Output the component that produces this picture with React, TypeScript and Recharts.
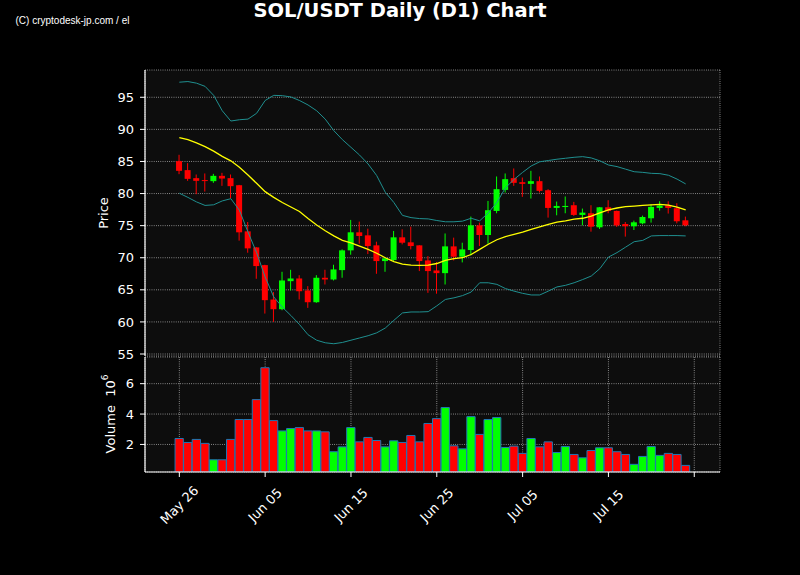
import React from 'react';
import { ComposedChart, Bar, Line, XAxis, YAxis, CartesianGrid, Cell } from 'recharts';

// ---- data (day index 0 = May 26) ----
const days = Array.from({ length: 60 }, (_, i) => i);
const opens = [85.05, 83.65, 82.4, 82.1, 81.93, 82.76, 82.4, 81.3, 74.11, 71.61,
  68.85, 63.49, 61.98, 66.35, 66.77, 64.9, 63.07, 66.88, 66.61, 68.07,
  71.15, 73.96, 73.49, 71.93, 69.48, 69.64, 73.18, 72.4, 71.93, 69.58,
  68.02, 67.6, 71.77, 70.16, 71.2, 75.05, 73.54, 77.29, 80.57, 82.4,
  81.77, 81.51, 81.93, 80.52, 77.76, 77.9, 78.18, 76.67, 76.93, 74.74,
  77.86, 77.29, 75.26, 74.9, 75.36, 76.15, 77.76, 78.18, 77.71, 75.83];
const highs = [86.04, 84.74, 82.97, 83.13, 83.07, 83.23, 82.97, 81.35, 75.57, 71.65,
  68.9, 64.64, 67.81, 68.12, 67.28, 65.57, 67.28, 68.13, 68.91, 71.3,
  75.89, 75.63, 74.53, 72.5, 69.95, 74.17, 74.43, 74.84, 71.95, 70.26,
  69.32, 73.78, 73.13, 72.34, 76.41, 75.47, 78.85, 82.66, 83.13, 83.91,
  82.5, 83.54, 82.66, 80.68, 78.75, 79.54, 78.7, 77.66, 78.18, 77.9,
  78.96, 77.35, 75.57, 75.78, 76.56, 78.33, 78.8, 78.8, 78.49, 76.41];
const lows = [83.02, 81.98, 79.9, 80.31, 81.67, 81.2, 79.22, 72.66, 70.78, 66.72,
  61.3, 60.0, 61.82, 64.9, 63.49, 62.19, 62.97, 65.83, 66.46, 66.88,
  70.47, 72.19, 70.57, 67.5, 67.81, 69.48, 72.08, 71.3, 67.92, 64.53,
  64.4, 65.83, 69.58, 69.27, 70.36, 71.82, 72.19, 76.93, 80.16, 81.2,
  79.48, 79.22, 80.16, 76.25, 76.61, 76.93, 76.51, 75.05, 74.06, 74.48,
  76.93, 74.8, 73.29, 74.32, 75.21, 75.47, 77.34, 76.88, 75.36, 74.9];
const closes = [83.54, 82.29, 81.98, 81.98, 82.76, 82.34, 81.15, 73.96, 71.46, 68.7,
  63.39, 61.98, 66.46, 66.77, 64.78, 63.07, 66.88, 66.61, 68.18, 71.15,
  73.96, 73.39, 71.82, 69.48, 69.9, 73.18, 72.34, 71.82, 69.48, 67.92,
  67.6, 71.77, 70.16, 71.3, 75.05, 73.54, 77.4, 80.68, 82.24, 81.67,
  81.51, 81.93, 80.42, 77.76, 78.07, 78.07, 76.67, 77.03, 74.84, 77.86,
  77.29, 75.03, 74.9, 75.52, 76.35, 77.92, 78.12, 77.76, 75.68, 75.05];
const volumes = [2.39, 2.13, 2.33, 2.07, 0.99, 0.99, 2.33, 3.64, 3.64, 4.95,
  7.05, 3.57, 2.89, 3.05, 3.11, 2.89, 2.89, 2.83, 1.52, 1.84,
  3.11, 2.17, 2.46, 2.26, 1.84, 2.24, 2.13, 2.59, 2.17, 3.38,
  3.7, 4.43, 1.91, 1.71, 3.83, 2.66, 3.64, 3.77, 1.8, 1.89,
  1.41, 2.39, 1.84, 2.17, 1.47, 1.86, 1.34, 1.12, 1.6, 1.78,
  1.78, 1.52, 1.34, 0.69, 1.21, 1.86, 1.28, 1.41, 1.34, 0.62];
const sma = [88.7, 88.4, 87.9, 87.3, 86.6, 85.8, 85.1, 84.1, 82.9, 81.6,
  80.3, 79.4, 78.6, 77.9, 77.2, 76.1, 75.1, 74.2, 73.4, 72.7,
  72.3, 71.8, 71.3, 70.7, 70.0, 69.4, 69.0, 68.85, 68.8, 68.85,
  69.1, 69.6, 69.85, 70.0, 70.5, 71.3, 72.1, 72.8, 73.3, 73.65,
  74.0, 74.4, 74.8, 75.2, 75.55, 75.75, 76.0, 76.15, 76.5, 77.0,
  77.45, 77.75, 77.95, 78.05, 78.15, 78.25, 78.3, 78.2, 77.9, 77.45];
const upperBand = [97.35, 97.45, 97.2, 96.7, 95.3, 92.9, 91.3, 91.5, 91.6, 92.5,
  94.5, 95.3, 95.25, 95.05, 94.5, 93.8, 92.9, 91.6, 89.8, 88.4,
  87.2, 86.0, 84.6, 82.8, 80.2, 78.6, 76.6, 76.25, 76.1, 76.05,
  75.8, 75.6, 75.6, 75.7, 76.15, 75.75, 77.0, 78.6, 80.9, 82.2,
  83.3, 84.3, 84.95, 85.15, 85.35, 85.5, 85.65, 85.75, 85.55, 85.1,
  84.45, 84.2, 83.8, 83.4, 83.3, 83.15, 83.1, 82.85, 82.25, 81.5];
const lowerBand = [80.05, 79.4, 78.7, 78.15, 78.25, 78.85, 79.2, 77.4, 74.0, 70.8,
  67.0, 63.9, 62.3, 61.0, 59.6, 58.0, 57.15, 56.75, 56.6, 56.8,
  57.15, 57.5, 57.85, 58.3, 59.05, 60.25, 61.4, 61.55, 61.55, 61.6,
  62.5, 63.5, 63.75, 64.1, 64.65, 66.1, 66.1, 65.85, 65.2, 64.8,
  64.45, 64.2, 64.2, 64.8, 65.45, 65.7, 66.1, 66.6, 67.15, 68.3,
  70.1, 70.8, 71.65, 72.5, 72.7, 73.4, 73.45, 73.45, 73.45, 73.4];
const tickDays = [0, 10, 20, 30, 40, 50, 60];
const tickLabels = ['May 26', 'Jun 05', 'Jun 15', 'Jun 25', 'Jul 05', 'Jul 15', ''];
const priceTicks = [55, 60, 65, 70, 75, 80, 85, 90, 95];
const volumeTicks = [2, 4, 6];

const rows = days.map((d, i) => ({
  day: d,
  open: opens[i],
  high: highs[i],
  low: lows[i],
  close: closes[i],
  volume: volumes[i],
  sma: sma[i],
  upper: upperBand[i],
  lower: lowerBand[i],
}));

const UP = '#00ff00';
const DOWN = '#ff0000';
const FONT = 'DejaVu Sans';
const GRID = '#c8c8c8';
const PLOT_BG = '#0d0d0d';

const Candle = (props: any) => {
  const { x, y, width, height, payload } = props;
  if (!payload) return null;
  const { open, close, high, low } = payload;
  const top = Math.min(y, y + height);
  const bot = Math.max(y, y + height);
  const span = high - low || 1;
  const pix = (v: number) => top + ((high - v) / span) * (bot - top);
  const cx = x + width / 2;
  const color = close >= open ? UP : DOWN;
  const bt = pix(Math.max(open, close));
  const bb = pix(Math.min(open, close));
  return (
    <g>
      <line x1={cx} x2={cx} y1={top} y2={bot} stroke={color} strokeWidth={1} />
      <rect x={x} y={bt} width={width} height={Math.max(bb - bt, 1)} fill={color} />
    </g>
  );
};

const XTick = (props: any) => {
  const { x, y, payload } = props;
  const idx = tickDays.indexOf(payload.value);
  const label = idx >= 0 ? tickLabels[idx] : '';
  if (!label) return null;
  const cy = y + 26;
  return (
    <text x={x} y={cy} textAnchor="middle" dominantBaseline="central" fill="#ffffff"
      fontSize={13} fontFamily={FONT} transform={`rotate(-45, ${x}, ${cy})`}>
      {label}
    </text>
  );
};

const tickStyle = { fill: '#ffffff', fontSize: 13, fontFamily: FONT };
const X_DOMAIN: [number, number] = [-4, 63];

export default function App() {
  return (
    <div style={{ position: 'fixed', left: 0, top: 0, width: 800, height: 575, background: '#000', overflow: 'hidden' }}>
      <div style={{ position: 'absolute', left: 0, top: 0 }}>
        <ComposedChart width={800} height={575} data={rows}
          margin={{ top: 70, right: 80, bottom: 219, left: 85 }}>
          <CartesianGrid stroke={GRID} strokeWidth={0.8} strokeDasharray="0.8 1.4" fill={PLOT_BG} />
          <XAxis dataKey="day" type="number" domain={X_DOMAIN} ticks={tickDays} allowDataOverflow
            height={0} tick={false} tickLine={false} axisLine={{ stroke: '#fff', strokeWidth: 1.2 }} />
          <XAxis xAxisId="top" orientation="top" dataKey="day" type="number" domain={X_DOMAIN} allowDataOverflow
            height={0} tick={false} tickLine={false} axisLine={{ stroke: '#fff', strokeWidth: 1.2 }} />
          <YAxis type="number" domain={[54.69, 99.25]} ticks={priceTicks} allowDataOverflow width={60}
            tick={tickStyle} tickSize={5} tickMargin={6} tickLine={{ stroke: '#fff' }}
            axisLine={{ stroke: '#fff', strokeWidth: 1.2 }} />
          <YAxis yAxisId="r" orientation="right" type="number" domain={[54.69, 99.25]} width={0}
            tick={false} tickLine={false} axisLine={{ stroke: '#fff', strokeWidth: 1.2 }} />
          <Bar dataKey={(d: any) => [d.low, d.high]} barSize={6} shape={Candle} isAnimationActive={false} />
          <Line dataKey="upper" stroke="#1f8f8f" strokeWidth={1} dot={false} activeDot={false} isAnimationActive={false} />
          <Line dataKey="lower" stroke="#1f8f8f" strokeWidth={1} dot={false} activeDot={false} isAnimationActive={false} />
          <Line dataKey="sma" stroke="#ffff00" strokeWidth={1.3} dot={false} activeDot={false} isAnimationActive={false} />
        </ComposedChart>
      </div>
      <div style={{ position: 'absolute', left: 0, top: 0 }}>
        <ComposedChart width={800} height={575} data={rows}
          margin={{ top: 357, right: 80, bottom: 43, left: 85 }}>
          <CartesianGrid stroke={GRID} strokeWidth={0.8} strokeDasharray="0.8 1.4" fill={PLOT_BG} />
          <XAxis dataKey="day" type="number" domain={X_DOMAIN} ticks={tickDays} allowDataOverflow
            height={60} tick={<XTick />} tickSize={5} tickMargin={2} tickLine={{ stroke: '#fff' }}
            axisLine={{ stroke: '#fff', strokeWidth: 1.2 }} interval={0} />
          <XAxis xAxisId="top" orientation="top" dataKey="day" type="number" domain={X_DOMAIN} allowDataOverflow
            height={0} tick={false} tickLine={false} axisLine={{ stroke: '#fff', strokeWidth: 1.2 }} />
          <YAxis type="number" domain={[0.186, 7.755]} ticks={volumeTicks} allowDataOverflow width={60}
            tick={tickStyle} tickSize={5} tickMargin={6} tickLine={{ stroke: '#fff' }}
            axisLine={{ stroke: '#fff', strokeWidth: 1.2 }} />
          <YAxis yAxisId="r" orientation="right" type="number" domain={[0.186, 7.755]} width={0}
            tick={false} tickLine={false} axisLine={{ stroke: '#fff', strokeWidth: 1.2 }} />
          <Bar dataKey="volume" barSize={8.3} stroke="#1f77b4" strokeWidth={1} isAnimationActive={false}>
            {rows.map((r, i) => (
              <Cell key={i} fill={r.close >= r.open ? UP : DOWN} />
            ))}
          </Bar>
        </ComposedChart>
      </div>
      <svg width={800} height={575} style={{ position: 'absolute', left: 0, top: 0, pointerEvents: 'none' }}>
        <text x={400} y={17} textAnchor="middle" fill="#ffffff" fontFamily={FONT} fontWeight="bold" fontSize={19.5}>
          SOL/USDT Daily (D1) Chart
        </text>
        <text x={15.5} y={24} fill="#ffffff" fontFamily="Liberation Sans" fontSize={10}>
          (C) cryptodesk-jp.com / el
        </text>
        <text x={103} y={213} textAnchor="middle" dominantBaseline="central" fill="#ffffff"
          fontFamily={FONT} fontSize={13} transform="rotate(-90, 103, 213)">
          Price
        </text>
        <text x={110} y={414} textAnchor="middle" dominantBaseline="central" fill="#ffffff"
          fontFamily={FONT} fontSize={13} transform="rotate(-90, 110, 414)">
          {'Volume\u00a0\u00a010'}
          <tspan dy={-5} fontSize={9}>6</tspan>
        </text>
      </svg>
    </div>
  );
}
